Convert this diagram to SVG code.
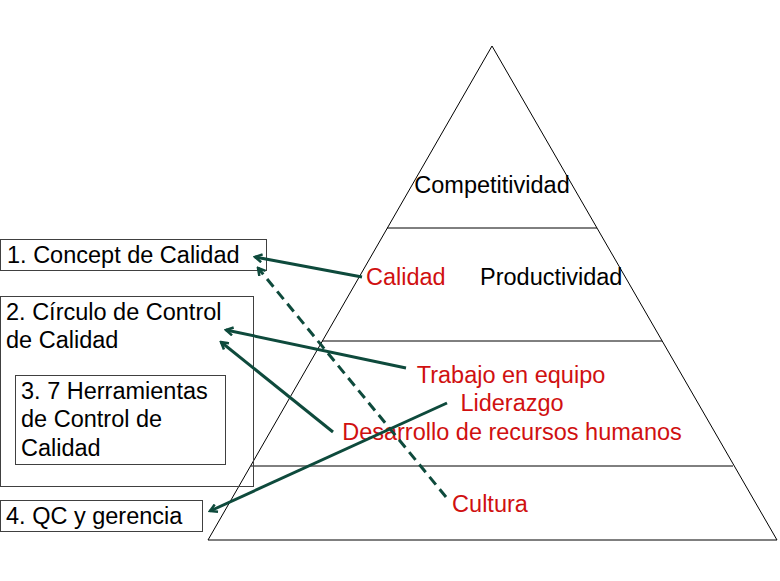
<svg xmlns="http://www.w3.org/2000/svg" width="780" height="581" viewBox="0 0 780 581">
<style>
.b{fill:none;stroke:#404040;stroke-width:1}
.t{font-family:"Liberation Sans",Arial,sans-serif;font-size:23.5px;fill:#000}
.r{font-family:"Liberation Sans",Arial,sans-serif;font-size:23.5px;fill:#d01010}
.a{stroke:#0e4a3c;stroke-width:3;fill:none;marker-end:url(#m)}
.p{stroke:#000;stroke-width:1;fill:none}
</style>
<defs><marker id="m" markerWidth="10" markerHeight="10" refX="8" refY="5" orient="auto" markerUnits="userSpaceOnUse"><path d="M1,1 L8,5 L1,9" fill="none" stroke="#0e4a3c" stroke-width="2.5"/></marker></defs>
<rect width="780" height="581" fill="#fff"/>
<g id="pyramid">
<path class="p" d="M492,46 L208,540 L777,540 Z M387,228 L597,228 M322,341 L662,341 M251,466 L733,466"/>
<text class="t" x="492" y="193" text-anchor="middle">Competitividad</text>
<text class="r" x="366" y="285">Calidad</text>
<text class="t" x="480" y="285">Productividad</text>
<text class="r" x="511" y="383" text-anchor="middle">Trabajo en equipo</text>
<text class="r" x="512" y="411" text-anchor="middle">Liderazgo</text>
<text class="r" x="512" y="440" text-anchor="middle">Desarrollo de recursos humanos</text>
<text class="r" x="490" y="512" text-anchor="middle">Cultura</text>
</g>
<g id="n1"><rect class="b" x="0.5" y="239.5" width="266" height="31"/><text class="t" x="7" y="263">1. Concept de Calidad</text></g>
<g id="n2"><rect class="b" x="0.5" y="296.5" width="253" height="190"/><text class="t" x="6" y="320">2. Círculo de Control</text><text class="t" x="6" y="348">de Calidad</text></g>
<g id="n3"><rect class="b" x="15.5" y="375.5" width="210" height="89"/><text class="t" x="21" y="399">3. 7 Herramientas</text><text class="t" x="21" y="427">de Control de</text><text class="t" x="21" y="456">Calidad</text></g>
<g id="n4"><rect class="b" x="0.5" y="500.5" width="202" height="31"/><text class="t" x="6" y="524">4. QC y gerencia</text></g>
<g id="connectors">
<line class="a" x1="362" y1="277" x2="255" y2="257"/>
<line class="a" x1="406" y1="368" x2="226" y2="330"/>
<line class="a" x1="333" y1="432" x2="221" y2="342"/>
<line class="a" x1="447" y1="403" x2="210" y2="511"/>
<line class="a" x1="446" y1="497" x2="258" y2="268" stroke-dasharray="10,6"/>
</g>
</svg>
